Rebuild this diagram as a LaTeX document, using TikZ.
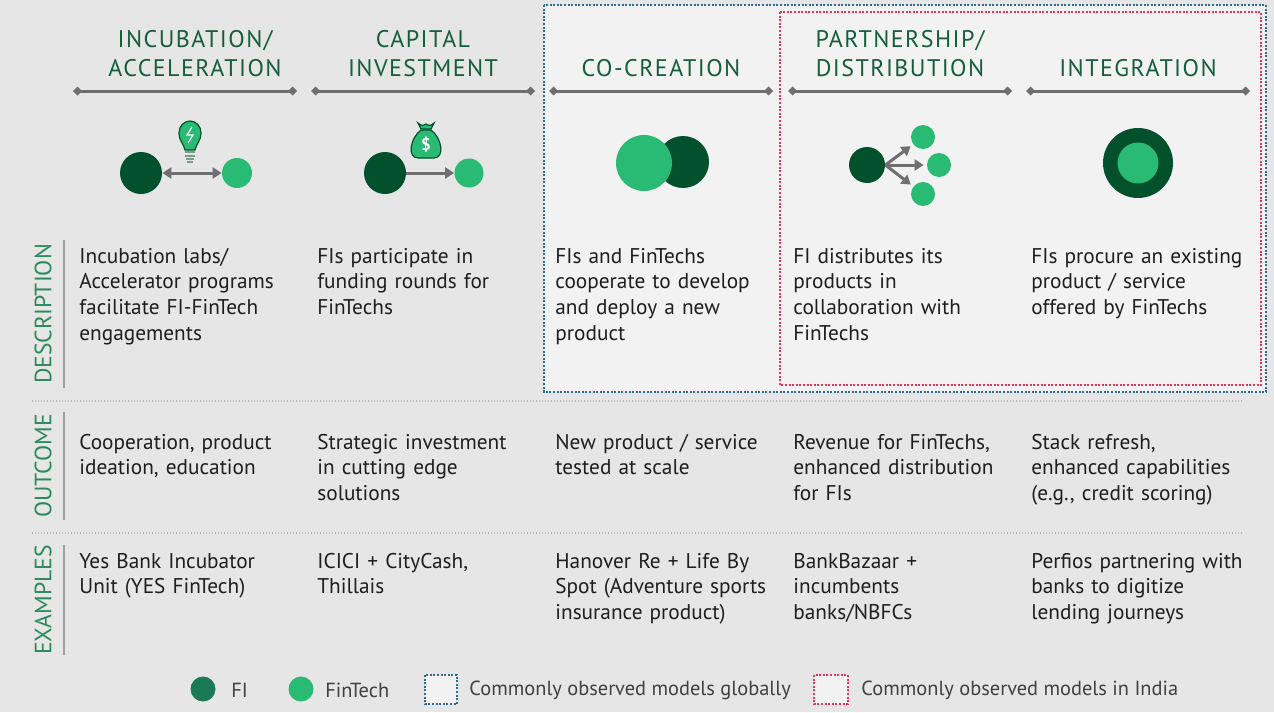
\documentclass[tikz,border=0pt]{standalone}
\usepackage{fontspec}
\setmainfont{PT Sans}
\usetikzlibrary{arrows.meta, positioning}
\definecolor{bgray}{HTML}{E6E6E6}
\definecolor{panel}{HTML}{F2F2F2}
\definecolor{fidark}{HTML}{03502D}
\definecolor{ftgreen}{HTML}{29BA74}
\definecolor{legfi}{HTML}{1A7A56}
\definecolor{arrgray}{HTML}{6F6F71}
\definecolor{headgreen}{HTML}{155E3B}
\definecolor{rowgreen}{HTML}{2B8A5C}
\definecolor{glbblue}{HTML}{2F6B8F}
\definecolor{indred}{HTML}{E8325C}
\definecolor{txt}{HTML}{1E1E1E}
\definecolor{basegray}{HTML}{7E9C8A}

\begin{document}
\begin{tikzpicture}[
    x=0.5pt, y=-0.5pt,
    >={Triangle[length=4.5pt,width=5.5pt]},
    dmd/.tip={Turned Square[length=4.5pt,width=4.5pt]},
    head/.style={text=headgreen, font=\fontsize{12}{14.5}\selectfont\addfontfeatures{LetterSpace=6}, inner sep=0, anchor=base, text width=105pt, align=center},
    body/.style={text=txt, font=\fontsize{10.65}{12.85}\selectfont, inner sep=0, anchor=base west, text width=115pt, align=left},
    rowlab/.style={text=rowgreen, font=\fontsize{11.8}{13}\selectfont, rotate=90, inner sep=0},
    hline/.style={arrgray, line width=1.5pt, dmd-dmd},
    rowline/.style={gray!75, line width=1pt},
    sep/.style={gray!55, line width=0.8pt, dash pattern=on 0.7pt off 0.8pt},
    fi/.style={circle, fill=fidark, inner sep=0},
    ft/.style={circle, fill=ftgreen, inner sep=0},
    arr/.style={arrgray, line width=1.5pt},
    glbbox/.style={draw=glbblue, line width=1pt, dash pattern=on 1pt off 0.8pt},
    indbox/.style={draw=indred, line width=1pt, dash pattern=on 1pt off 0.8pt},
    legtxt/.style={text=black!75, font=\fontsize{10.2}{12}\selectfont, anchor=west, inner sep=0}
]
    % background and model panels
    \fill[bgray] (0,0) rectangle (1274,712);
    \useasboundingbox (0,0) rectangle (1274,712);
    \fill[panel] (544,5) rectangle (1266,392);
    \draw[glbbox] (544,5) rectangle (1266,392);
    \draw[indbox] (780,12) rectangle (1261,385);

    % column headers
    \node[head] (h1) at (195,47) {INCUBATION/\\ACCELERATION};
    \node[head] (h2) at (423,47) {CAPITAL\\INVESTMENT};
    \node[head] (h3) at (661,76) {CO-CREATION};
    \node[head] (h4) at (900,47) {PARTNERSHIP/\\DISTRIBUTION};
    \node[head] (h5) at (1138,76) {INTEGRATION};
    \foreach \cx in {185,423,661,900,1138} {
        \coordinate (la) at (\cx-112,91);
        \coordinate (lb) at (\cx+112,91);
        \draw[hline] (la) -- (lb);
    }

    % icons: incubation / acceleration
    \node[fi, minimum size=21pt] (fi1) at (141,173) {};
    \node[ft, minimum size=15pt] (ft1) at (237,173) {};
    \draw[arr, <->] (fi1) -- (ft1);
    \draw[fill=ftgreen, draw=fidark, line width=0.6pt] (185,150) .. controls (184,144) and (179,141) .. (179,133)
        .. controls (179,126) and (184,121) .. (190,121) .. controls (196,121) and (201,126) .. (201,133)
        .. controls (201,141) and (196,144) .. (195,150) -- cycle;
    \draw[white, line width=0.6pt] (192,127) -- (187,135) -- (193,135) -- (188,143);
    \foreach \yy/\w in {151/5, 154.5/5, 158/4} {
        \fill[basegray] (190-\w,\yy) rectangle (190+\w,\yy+2.2);
    }
    \fill[basegray] (187,161) rectangle (193,163);

    % icons: capital investment
    \node[fi, minimum size=21pt] (fi2) at (385,173) {};
    \node[ft, minimum size=14.5pt] (ft2) at (469,173) {};
    \draw[arr, ->] (fi2) -- (ft2);
    \draw[fill=ftgreen, draw=fidark, line width=0.6pt] (421,130) .. controls (410,138) and (407,158) .. (418,158)
        -- (434,158) .. controls (445,158) and (442,138) .. (431,130) -- cycle;
    \draw[fill=ftgreen, draw=fidark, line width=0.6pt] (418,123) .. controls (422,126) .. (426,124)
        .. controls (430,126) .. (434,123) -- (431,129) -- (421,129) -- cycle;
    \node[text=white, font=\fontsize{8.5}{9}\selectfont\bfseries, inner sep=0] (usd) at (426,145) {\$};

    % icons: co-creation
    \node[fi, minimum size=26pt] (fi3) at (683,162) {};
    \node[ft, minimum size=28pt] (ft3) at (644,163) {};

    % icons: partnership / distribution
    \node[fi, minimum size=18pt] (fi4) at (867,165) {};
    \node[ft, minimum size=12pt] (ft4a) at (923,137) {};
    \node[ft, minimum size=12pt] (ft4b) at (939,165) {};
    \node[ft, minimum size=12pt] (ft4c) at (923,194) {};
    \foreach \t in {ft4a,ft4b,ft4c}
        \draw[arr, ->, shorten >=1.5pt] (fi4.east) -- (\t);

    % icons: integration
    \node[fi, minimum size=35pt] (fi5) at (1138,163) {};
    \node[ft, minimum size=20.5pt] (ft5) at (1138,163) {};

    % row labels and separators
    \node[rowlab] (rdesc) at (43,314) {DESCRIPTION};
    \node[rowlab] (rout) at (43,466) {OUTCOME};
    \node[rowlab] (rex) at (43,600) {EXAMPLES};
    \draw[rowline] (64,240) -- (64,388);
    \draw[rowline] (64,412) -- (64,520);
    \draw[rowline] (64,545) -- (64,655);
    \draw[sep] (32,401) -- (1242,401);
    \draw[sep] (32,533) -- (1242,533);

    % description
    \node[body] (d1) at (79,263) {Incubation labs/\\Accelerator programs\\facilitate FI-FinTech\\engagements};
    \node[body] (d2) at (317,263) {FIs participate in\\funding rounds for\\FinTechs};
    \node[body] (d3) at (555,263) {FIs and FinTechs\\cooperate to develop\\and deploy a new\\product};
    \node[body] (d4) at (793,263) {FI distributes its\\products in\\collaboration with\\FinTechs};
    \node[body] (d5) at (1031,263) {FIs procure an existing\\product / service\\offered by FinTechs};

    % outcome
    \node[body] (o1) at (79,449) {Cooperation, product\\ideation, education};
    \node[body] (o2) at (317,449) {Strategic investment\\in cutting edge\\solutions};
    \node[body] (o3) at (555,449) {New product / service\\tested at scale};
    \node[body] (o4) at (793,449) {Revenue for FinTechs,\\enhanced distribution\\for FIs};
    \node[body] (o5) at (1031,449) {Stack refresh,\\enhanced capabilities\\(e.g., credit scoring)};

    % examples
    \node[body] (e1) at (79,568) {Yes Bank Incubator\\Unit (YES FinTech)};
    \node[body] (e2) at (317,568) {ICICI + CityCash,\\Thillais};
    \node[body] (e3) at (555,568) {Hanover Re + Life By\\Spot (Adventure sports\\insurance product)};
    \node[body] (e4) at (793,568) {BankBazaar +\\incumbents\\banks/NBFCs};
    \node[body] (e5) at (1031,568) {Perfios partnering with\\banks to digitize\\lending journeys};

    % legend
    \node[circle, fill=legfi, inner sep=0, minimum size=12.5pt] (kfi) at (203,689) {};
    \node[legtxt] (tfi) at (231,690) {FI};
    \node[ft, minimum size=12.5pt] (kft) at (301,689) {};
    \node[legtxt] (tft) at (325,690) {FinTech};
    \fill[panel] (425,675) rectangle (457,704);
    \draw[glbbox] (425,675) rectangle (457,704);
    \node[legtxt] (tglb) at (469,690) {Commonly observed models globally};
    \fill[panel] (814,675) rectangle (848,704);
    \draw[indbox] (814,675) rectangle (848,704);
    \node[legtxt] (tind) at (861,690) {Commonly observed models in India};
\end{tikzpicture}
\end{document}
